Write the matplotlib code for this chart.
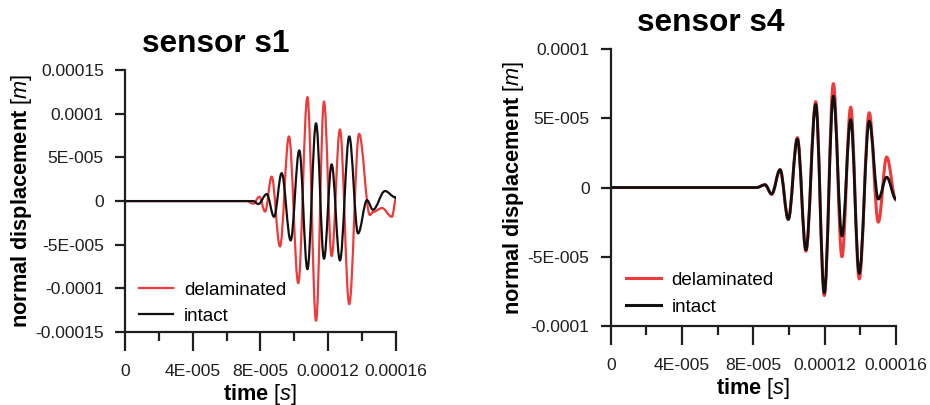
import matplotlib.pyplot as plt
from matplotlib.ticker import FixedLocator
from matplotlib.path import Path
from matplotlib.patches import PathPatch
from matplotlib.lines import Line2D

plt.rcParams['font.family'] = ['Liberation Sans', 'DejaVu Sans']
plt.rcParams['mathtext.fontset'] = 'custom'
plt.rcParams['mathtext.it'] = 'Liberation Sans:italic'
plt.rcParams['mathtext.rm'] = 'Liberation Sans'

# ---- data (local extrema of the waveforms) ----
# sensor s1
t_s1_del = [0, 7.18e-5, 7.58e-5, 7.93e-5, 8.27e-5, 8.66e-5, 9.15e-5, 9.68e-5, 1.023e-4,
            1.077e-4, 1.128e-4, 1.175e-4, 1.220e-4, 1.269e-4, 1.324e-4, 1.382e-4,
            1.446e-4, 1.464e-4, 1.517e-4, 1.576e-4, 1.600e-4]
u_s1_del = [0, 0, -3e-6, 5e-6, -1.2e-5, 2.8e-5, -5.2e-5, 7.4e-5, -9.4e-5,
            1.19e-4, -1.37e-4, 1.14e-4, -6.3e-5, 8.2e-5, -1.18e-4, 7.7e-5,
            -1.6e-5, -1.26e-5, -8e-6, -1.8e-5, 3e-6]
t_s1_int = [0, 7.58e-5, 7.87e-5, 8.37e-5, 8.80e-5, 9.25e-5, 9.78e-5, 1.029e-4, 1.077e-4,
            1.128e-4, 1.175e-4, 1.220e-4, 1.269e-4, 1.324e-4, 1.376e-4, 1.429e-4,
            1.464e-4, 1.535e-4, 1.594e-4, 1.600e-4]
u_s1_int = [0, 0, -3.4e-6, 8e-6, -1.8e-5, 3.2e-5, -4.5e-5, 5.8e-5, -7.8e-5,
            8.9e-5, -6.6e-5, 4.2e-5, -6.8e-5, 7.4e-5, -3.7e-5, 1e-6,
            -1.0e-5, 1.15e-5, 4.6e-6, 3e-6]

# sensor s4
t_s4 = [0, 8.19e-5, 8.65e-5, 9.03e-5, 9.50e-5, 9.96e-5, 1.047e-4, 1.095e-4, 1.150e-4,
        1.198e-4, 1.249e-4, 1.297e-4, 1.346e-4, 1.394e-4, 1.450e-4, 1.501e-4,
        1.548e-4, 1.600e-4]
u_s4_del = [0, 0, 2e-6, -5e-6, 1.3e-5, -2.3e-5, 3.6e-5, -4.6e-5, 6.2e-5,
            -7.8e-5, 7.5e-5, -5.0e-5, 5.8e-5, -6.6e-5, 5.4e-5, -2.5e-5, 2.2e-5, -9e-6]
u_s4_int = [0, 0, 2e-6, -4.6e-6, 1.28e-5, -2.3e-5, 3.5e-5, -4.5e-5, 6.0e-5,
            -7.6e-5, 6.6e-5, -3.5e-5, 4.9e-5, -6.2e-5, 4.8e-5, -8.4e-6, 7.5e-6, -8.4e-6]

x_ticks = [0, 4e-5, 8e-5, 1.2e-4, 1.6e-4]
x_tick_labels = ['0', '4E-005', '8E-005', '0.00012', '0.00016']
x_minor = [2e-5, 6e-5, 1.0e-4, 1.4e-4]
y_ticks_s1 = [-1.5e-4, -1e-4, -5e-5, 0, 5e-5, 1e-4, 1.5e-4]
y_labels_s1 = ['-0.00015', '-0.0001', '-5E-005', '0', '5E-005', '0.0001', '0.00015']
y_ticks_s4 = [-1e-4, -5e-5, 0, 5e-5, 1e-4]
y_labels_s4 = ['-0.0001', '-5E-005', '0', '5E-005', '0.0001']

RED = '#ee3a3a'
BLACK = '#111111'
TXT = '#1e1e1e'


def wave(ax, t, u, color, lw):
    # smooth curve through the extrema (flat tangent at each point)
    verts = [(t[0], u[0])]
    codes = [Path.MOVETO]
    for i in range(1, len(t)):
        d = t[i] - t[i - 1]
        verts += [(t[i - 1] + 0.36 * d, u[i - 1]), (t[i] - 0.36 * d, u[i]), (t[i], u[i])]
        codes += [Path.CURVE4] * 3
    ax.add_patch(PathPatch(Path(verts, codes), fill=False, edgecolor=color, lw=lw,
                           joinstyle='round', capstyle='round'))


fig = plt.figure(figsize=(9.3, 4.05), dpi=100)
ax1 = fig.add_axes([0.1344, 0.180, 0.2914, 0.647])
ax2 = fig.add_axes([0.6567, 0.195, 0.3067, 0.684])


def style(ax, yt, yl, ylim):
    ax.set_xlim(0, 1.6e-4)
    ax.set_ylim(*ylim)
    for s in ['top', 'right']:
        ax.spines[s].set_visible(False)
    for s in ['left', 'bottom']:
        ax.spines[s].set_linewidth(1.6)
        ax.spines[s].set_color(TXT)
    ax.xaxis.set_major_locator(FixedLocator(x_ticks))
    ax.set_xticklabels(x_tick_labels)
    ax.xaxis.set_minor_locator(FixedLocator(x_minor))
    ax.yaxis.set_major_locator(FixedLocator(yt))
    ax.set_yticklabels(yl)
    ax.tick_params(axis='x', which='major', length=14, width=1.6, pad=9,
                   labelsize=12.6, colors=TXT)
    ax.tick_params(axis='x', which='minor', length=6.7, width=1.6, colors=TXT)
    ax.tick_params(axis='y', length=7.2, width=1.6, pad=8, labelsize=12.6, colors=TXT)
    ax.set_xlabel(r'time $\mathit{[s]}$', fontsize=15.7, fontweight='bold', labelpad=2)
    ax.set_ylabel(r'normal displacement $\mathit{[m]}$', fontsize=15.7,
                  fontweight='bold', labelpad=1)


wave(ax1, t_s1_del, u_s1_del, RED, 1.6)
wave(ax1, t_s1_int, u_s1_int, BLACK, 1.6)
style(ax1, y_ticks_s1, y_labels_s1, (-1.5e-4, 1.5e-4))
h1 = [Line2D([], [], color=RED, lw=1.6, label='delaminated'),
      Line2D([], [], color=BLACK, lw=1.6, label='intact')]
ax1.legend(handles=h1, loc='lower left', bbox_to_anchor=(0.022, 0.0), frameon=False,
           fontsize=13.6, handlelength=1.85, handletextpad=0.55, labelspacing=0.45,
           borderaxespad=0.0)

wave(ax2, t_s4, u_s4_del, RED, 2.2)
wave(ax2, t_s4, u_s4_int, BLACK, 2.0)
style(ax2, y_ticks_s4, y_labels_s4, (-1e-4, 1e-4))
h2 = [Line2D([], [], color=RED, lw=2.2, label='delaminated'),
      Line2D([], [], color=BLACK, lw=2.2, label='intact')]
ax2.legend(handles=h2, loc='lower left', bbox_to_anchor=(0.018, 0.0), frameon=False,
           fontsize=13.6, handlelength=1.85, handletextpad=0.55, labelspacing=0.5,
           borderaxespad=0.15)

fig.text(216 / 930, 1 - 44 / 405, 'sensor s1', fontsize=22.8, fontweight='bold',
         ha='center', va='center')
fig.text(711 / 930, 1 - 23 / 405, 'sensor s4', fontsize=22.8, fontweight='bold',
         ha='center', va='center')

fig.savefig('out.png', dpi=100)
